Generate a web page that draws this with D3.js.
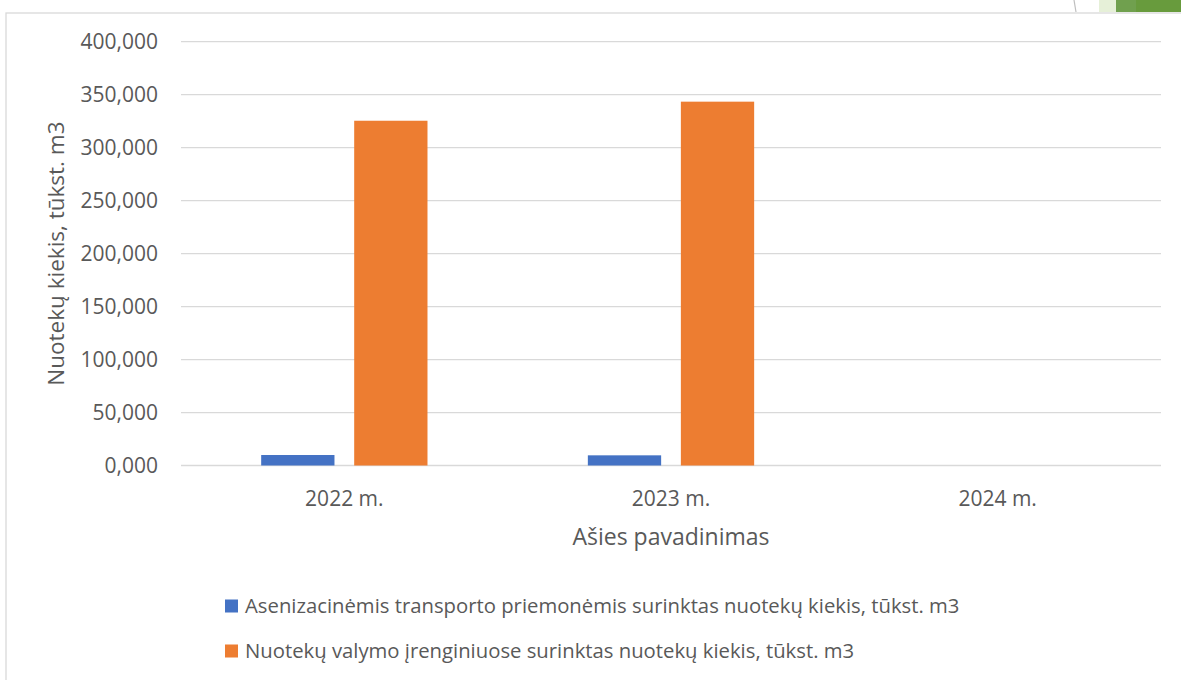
<!DOCTYPE html>
<html>
<head>
  <meta charset='utf-8'>
  <title>Nuotekų kiekis</title>
  <script src="https://cdn.jsdelivr.net/npm/d3@7"></script>
  <style>
    html, body { margin: 0; padding: 0; background: #fff; }
    svg { display: block; font-family: "Open Sans", "Noto Sans", sans-serif; }
  </style>
</head>
<body>
<svg id="chart" width="1181" height="680"></svg>
<script>
// chart data
const categories = ["2022 m.", "2023 m.", "2024 m."];
const seriesNames = [
  "Asenizacinėmis transporto priemonėmis surinktas nuotekų kiekis, tūkst. m3",
  "Nuotekų valymo įrenginiuose surinktas nuotekų kiekis, tūkst. m3"
];
const asenizacijaValues = [9900, 9600, null];
const valymoValues = [325400, 343400, null];
const yTicks = [0, 50000, 100000, 150000, 200000, 250000, 300000, 350000, 400000];
const colors = ["#4472c4", "#ed7d31"];

const svg = d3.select("#chart");

// slide decoration in the top-right corner
svg.append("line").attr("x1", 1074).attr("y1", 0).attr("x2", 1076).attr("y2", 12)
  .attr("stroke", "#bfbfbf").attr("stroke-width", 1.2);
svg.append("rect").attr("x", 1099).attr("y", 0).attr("width", 18).attr("height", 12).attr("fill", "#e6f0d8");
svg.append("rect").attr("x", 1116).attr("y", 0).attr("width", 21).attr("height", 12).attr("fill", "#70a04e");
svg.append("rect").attr("x", 1136).attr("y", 0).attr("width", 45).attr("height", 12).attr("fill", "#689b3d");

// chart area border
svg.append("rect").attr("x", 6).attr("y", 13).attr("width", 1200).attr("height", 700)
  .attr("fill", "#fff").attr("stroke", "#d9d9d9").attr("stroke-width", 1.3);

const plotL = 181, plotR = 1161, plotT = 41.7, plotB = 465.5;

const y = d3.scaleLinear().domain([0, 400000]).range([plotB, plotT]);
const x0 = d3.scaleBand().domain(categories).range([plotL, plotR]).padding(0);
const x1 = d3.scaleBand().domain([0, 1]).range([0, x0.bandwidth()])
  .paddingInner(0.212).paddingOuter(0.862);

// gridlines
svg.append("g").selectAll("line").data(yTicks).join("line")
  .attr("x1", plotL).attr("x2", plotR)
  .attr("y1", d => y(d)).attr("y2", d => y(d))
  .attr("stroke", "#d9d9d9").attr("stroke-width", 1.3);

// y axis labels (thousands written as "x,000")
const yAxis = svg.append("g").attr("transform", `translate(${plotL - 23},0)`)
  .call(d3.axisLeft(y).tickValues(yTicks).tickSize(0).tickPadding(0)
    .tickFormat(d => d3.format(",")(d / 1000) + ",000"));
yAxis.select(".domain").remove();
yAxis.selectAll("text").attr("fill", "#595959").attr("font-size", 21)
  .attr("font-family", "\"Open Sans\", \"Noto Sans\", sans-serif");

// bars
const rows = categories.map((c, i) => ({ cat: c, vals: [asenizacijaValues[i], valymoValues[i]] }));
svg.append("g").selectAll("g").data(rows).join("g")
  .attr("transform", d => `translate(${x0(d.cat)},0)`)
  .selectAll("rect").data(d => d.vals.map((v, k) => ({ k, v })).filter(e => e.v != null))
  .join("rect")
  .attr("x", d => x1(d.k)).attr("width", x1.bandwidth())
  .attr("y", d => y(d.v)).attr("height", d => y(0) - y(d.v))
  .attr("fill", d => colors[d.k]);

// x axis labels
const xAxis = svg.append("g").attr("transform", `translate(0,${plotB + 22})`)
  .call(d3.axisBottom(x0).tickSize(0).tickPadding(0));
xAxis.select(".domain").remove();
xAxis.selectAll("text").attr("fill", "#595959").attr("font-size", 21)
  .attr("dy", "0.9em")
  .attr("font-family", "\"Open Sans\", \"Noto Sans\", sans-serif");

// axis titles
svg.append("text").attr("x", (plotL + plotR) / 2).attr("y", 545)
  .attr("text-anchor", "middle").attr("fill", "#595959").attr("font-size", 23)
  .text("Ašies pavadinimas");
svg.append("text").attr("transform", `translate(64,${(plotT + plotB) / 2}) rotate(-90)`)
  .attr("text-anchor", "middle").attr("fill", "#595959").attr("font-size", 22.5)
  .text("Nuotekų kiekis, tūkst. m3");

// legend
const legend = svg.append("g").selectAll("g").data(seriesNames).join("g")
  .attr("transform", (d, i) => `translate(225,${606 + i * 45})`);
legend.append("rect").attr("x", 0).attr("y", -6.5).attr("width", 13).attr("height", 13)
  .attr("fill", (d, i) => colors[i]);
legend.append("text").attr("x", 20).attr("y", 0).attr("dy", "0.35em")
  .attr("fill", "#595959").attr("font-size", 20.3).text(d => d);
</script>
</body>
</html>
